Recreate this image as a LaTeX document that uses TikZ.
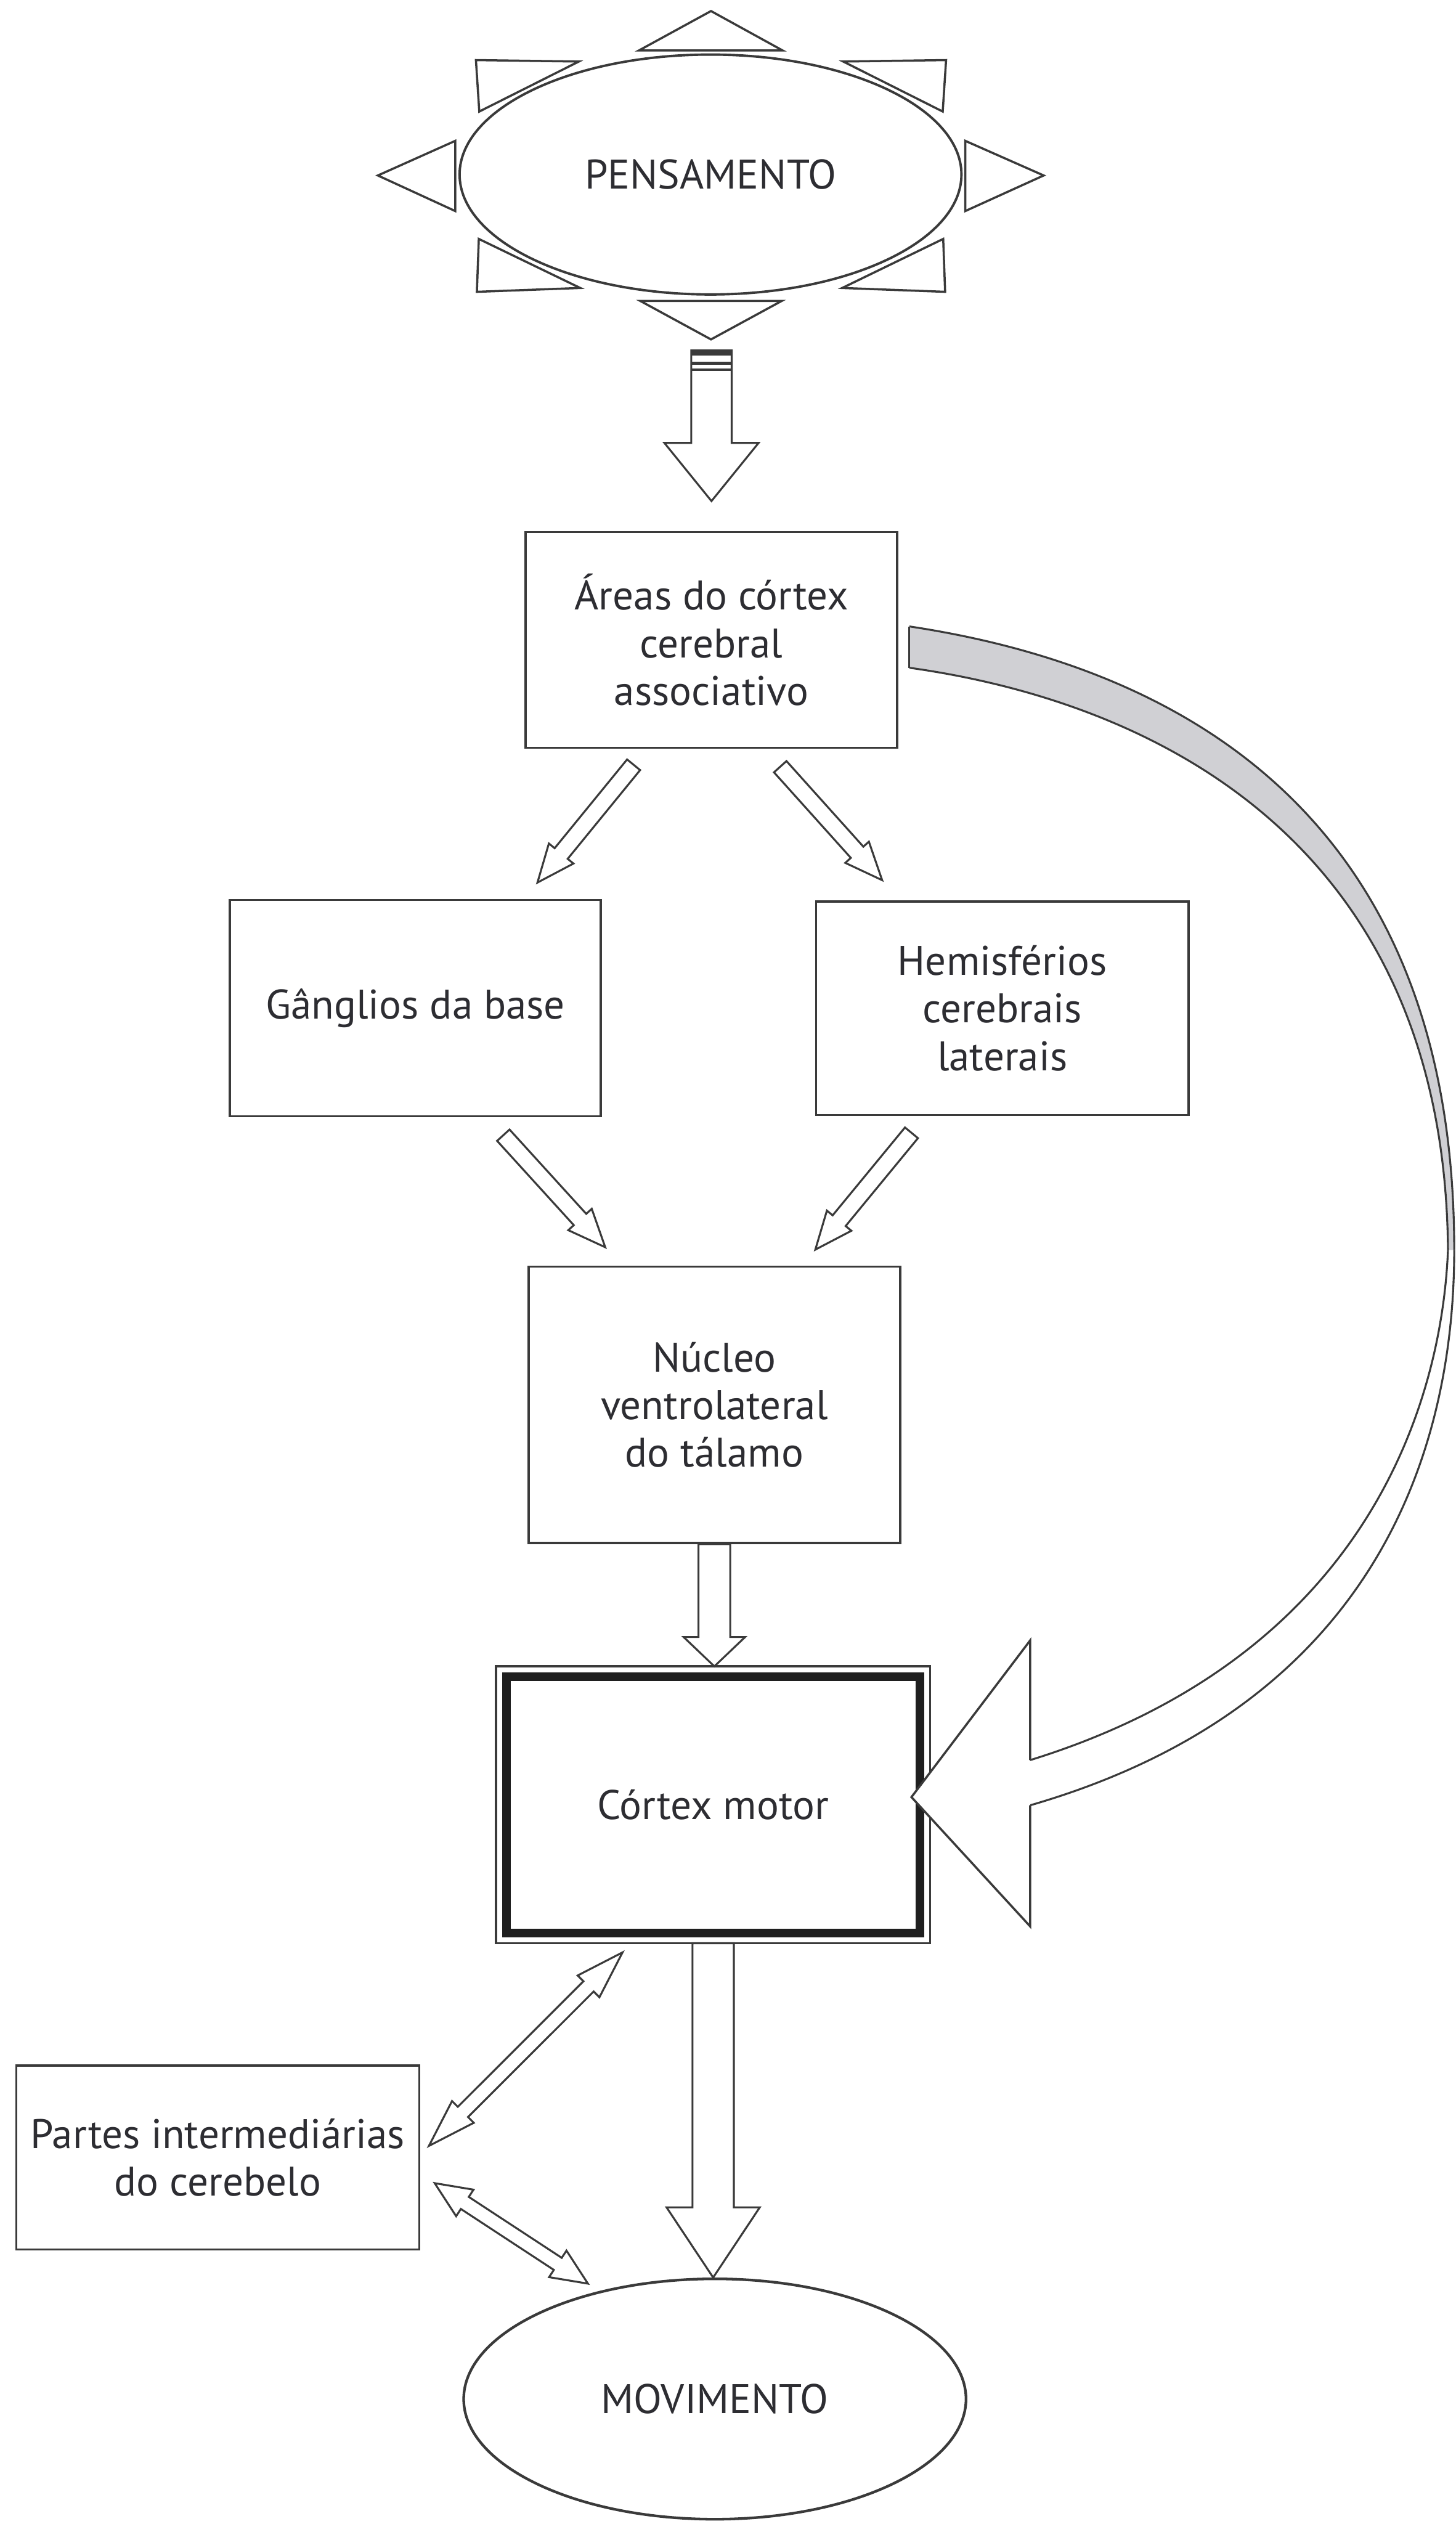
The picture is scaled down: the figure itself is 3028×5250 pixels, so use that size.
\documentclass[tikz,border=0pt]{standalone}
\usepackage{fontspec}
\setmainfont{PT Sans}
\usetikzlibrary{shapes.geometric,calc}
\definecolor{linec}{RGB}{58,58,58}
\definecolor{textc}{RGB}{45,45,50}
\definecolor{ribbonc}{RGB}{208,208,212}
\newcommand\BlkArrow[5]{%
  \coordinate (ba-t) at (#1);
  \coordinate (ba-h) at (#2);
  \coordinate (ba-b) at ($(ba-h)!#5!(ba-t)$);
  \draw[blk] ($(ba-t)!#3!90:(ba-h)$) -- ($(ba-b)!#3!-90:(ba-t)$) -- ($(ba-b)!#4!-90:(ba-t)$) -- (ba-h)
    -- ($(ba-b)!#4!90:(ba-t)$) -- ($(ba-b)!#3!90:(ba-t)$) -- ($(ba-t)!#3!-90:(ba-h)$) -- cycle;}
\newcommand\DblArrow[5]{%
  \coordinate (da-a) at (#1);
  \coordinate (da-b) at (#2);
  \coordinate (da-ha) at ($(da-a)!#5!(da-b)$);
  \coordinate (da-hb) at ($(da-b)!#5!(da-a)$);
  \draw[blk] (da-a) -- ($(da-ha)!#4!90:(da-b)$) -- ($(da-ha)!#3!90:(da-b)$) -- ($(da-hb)!#3!-90:(da-a)$)
    -- ($(da-hb)!#4!-90:(da-a)$) -- (da-b) -- ($(da-hb)!#4!90:(da-a)$) -- ($(da-hb)!#3!90:(da-a)$)
    -- ($(da-ha)!#3!-90:(da-b)$) -- ($(da-ha)!#4!-90:(da-b)$) -- cycle;}
\tikzset{
  txt/.style={text=textc, font=\fontsize{8.6}{9.9}\selectfont, align=center},
  box/.style={txt, draw=linec, line width=0.45pt, rectangle, inner sep=0pt},
  oval/.style={txt, draw=linec, line width=0.5pt, ellipse, inner sep=0pt, fill=white},
  blk/.style={draw=linec, line width=0.4pt, fill=white, line join=miter},
  tri/.style={draw=linec, line width=0.45pt, fill=white, line join=miter},
  rib/.style={draw=linec, line width=0.4pt},
}
\begin{document}
\begin{tikzpicture}[x=0.1pt,y=-0.1pt]
\useasboundingbox[fill=white] (0,0) rectangle (3028,5250);

% --- triangles around PENSAMENTO
\draw[tri] (1329,105) -- (1479,23) -- (1628,105) -- cycle;
\draw[tri] (1332,626) -- (1479,706) -- (1626,626) -- cycle;
\draw[tri] (947,293) -- (786,365) -- (947,439) -- cycle;
\draw[tri] (2008,293) -- (2171,365) -- (2008,439) -- cycle;
\draw[tri] (990,125) -- (1204,128) -- (997,232) -- cycle;
\draw[tri] (1968,125) -- (1754,128) -- (1961,232) -- cycle;
\draw[tri] (992,607) -- (1207,599) -- (996,497) -- cycle;
\draw[tri] (1966,607) -- (1752,599) -- (1962,497) -- cycle;

\node[oval, minimum width=104.4pt, minimum height=49.9pt] (pens) at (1478,363) {PENSAMENTO};

% --- boxes
\node[box, minimum width=77.3pt, minimum height=44.9pt] (areas) at (1480,1331) {Áreas do córtex\\cerebral\\associativo};
\node[box, minimum width=77.2pt, minimum height=45pt] (gang) at (864,2097) {Gânglios da base};
\node[box, minimum width=77.5pt, minimum height=44.4pt] (hemi) at (2085,2097) {Hemisférios\\cerebrais\\laterais};
\node[box, minimum width=77.3pt, minimum height=57.5pt] (nucleo) at (1486,2922) {Núcleo\\ventrolateral\\do tálamo};
\node[txt, inner sep=0pt, minimum width=89.9pt, minimum height=57.2pt] (cortex) at (1483.5,3754) {Córtex motor};
\draw[linec, line width=0.45pt] (cortex.north west) rectangle (cortex.south east);
\draw[black!88, line width=1.8pt] ($(cortex.north west)+(21,21)$) rectangle ($(cortex.south east)+(-21,-21)$);
\node[box, minimum width=83.8pt, minimum height=38.3pt] (partes) at (453,4487.5) {Partes intermediárias\\do cerebelo};
\node[oval, line width=0.55pt, minimum width=104.5pt, minimum height=50pt] (mov) at (1487,4990) {MOVIMENTO};

% --- top arrow
\coordinate (t1tip) at ($(areas.north)+(0,-62)$);
\coordinate (t1tail) at ($(t1tip |- pens.south)+(0,114)$);
\BlkArrow{t1tail}{t1tip}{4.2pt}{9.8pt}{12.1pt}
\draw[linec, line width=1.1pt] ($(t1tail)+(-42,5)$) -- ($(t1tail)+(42,5)$);
\draw[linec, line width=0.6pt] ($(t1tail)+(-42,27)$) -- ($(t1tail)+(42,27)$);
\draw[linec, line width=0.6pt] ($(t1tail)+(-42,40)$) -- ($(t1tail)+(42,40)$);

% --- diagonal arrows
\BlkArrow{$(areas.south)+(-162,33)$}{$(gang.north)+(254,-34)$}{1.75pt}{3.3pt}{7.8pt}
\BlkArrow{$(areas.south)+(143,37)$}{$(hemi.north)+(-250,-42)$}{1.75pt}{3.3pt}{7.8pt}
\BlkArrow{$(gang.south)+(183,37)$}{$(nucleo.north)+(-227,-38)$}{1.75pt}{3.3pt}{7.8pt}
\BlkArrow{$(hemi.south)+(-189,35)$}{$(nucleo.north)+(210,-33)$}{1.75pt}{3.3pt}{7.8pt}

% --- vertical arrows
\BlkArrow{nucleo.south}{nucleo.south |- cortex.north}{3.3pt}{6.4pt}{6.1pt}
\BlkArrow{cortex.south}{cortex.south |- mov.north}{4.3pt}{9.7pt}{14.6pt}

% --- double arrows
\DblArrow{$(partes.east)+(18,-24)$}{$(cortex.south)+(-188.5,19)$}{1.5pt}{3.2pt}{10pt}
\DblArrow{$(partes.east)+(30,53.5)$}{$(mov.center)+(-264,-240)$}{1.5pt}{3.3pt}{7.5pt}

% --- curved ribbon arrow
\coordinate (ra) at ($(areas.east)+(23,-28)$);
\coordinate (rb) at ($(areas.east)+(23,58)$);
\coordinate (rpa) at (3025,2600);
\coordinate (rpb) at (3012,2600);
\coordinate (rea) at ($(cortex.east)+(208,1)$);
\coordinate (reb) at ($(cortex.east)+(208,-93)$);
\coordinate (rtip) at ($(cortex.east)+(-39,-16)$);
\coordinate (rht) at ($(cortex.east)+(208,-342)$);
\coordinate (rhb) at ($(cortex.east)+(208,253)$);
\fill[ribbonc] (ra) .. controls (2435,1385) and (3025,1680) .. (rpa) -- (rpb)
   .. controls (3005,1750) and (2400,1460) .. (rb) -- cycle;
\draw[rib] (ra) .. controls (2435,1385) and (3025,1680) .. (rpa);
\draw[rib] (rb) .. controls (2400,1460) and (3005,1750) .. (rpb);
\draw[rib] (ra) -- (rb);
\draw[rib] (rpa) .. controls (3025,2950) and (2910,3533) .. (rea);
\draw[rib] (rpb) .. controls (3000,2900) and (2857,3440) .. (reb);
\draw[tri] (reb) -- (rht) -- (rtip) -- (rhb) -- (rea);
\end{tikzpicture}
\end{document}
